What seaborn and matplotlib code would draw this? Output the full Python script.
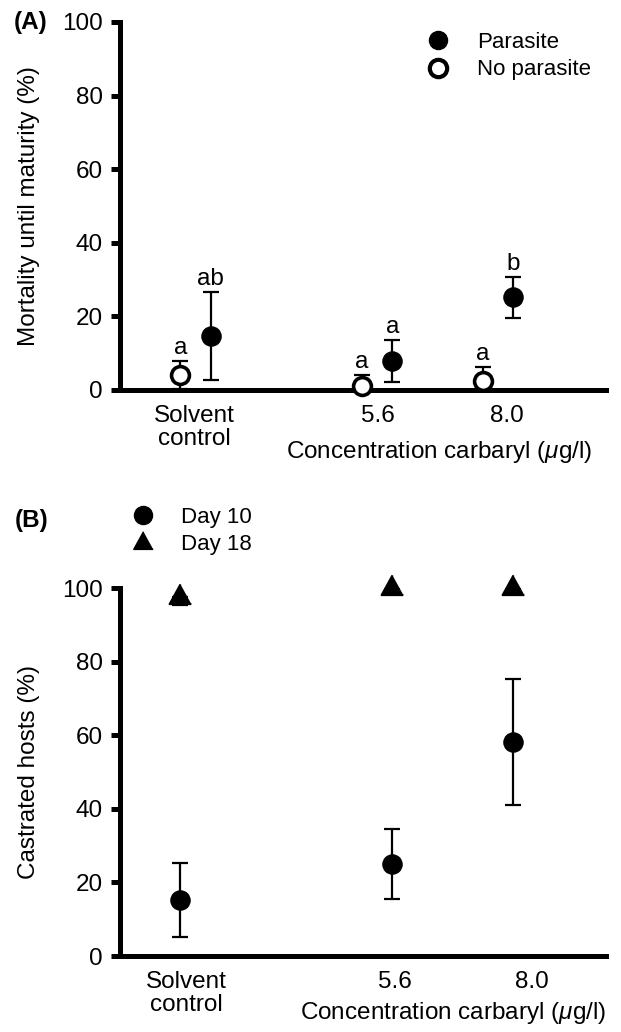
import matplotlib
matplotlib.use("Agg")
import matplotlib.pyplot as plt
import seaborn as sns
from matplotlib.lines import Line2D

# ---- data ----
# panel A: mortality until maturity (%)
tick_labels = ["Solvent\ncontrol", "5.6", "8.0"]
x_parasite = [2.0, 5.6, 8.0]
x_noparasite = [1.4, 5.0, 7.4]
parasite_mean = [14.6, 7.9, 25.2]
parasite_err = [12.0, 5.6, 5.6]
noparasite_mean = [4.1, 1.0, 2.5]
noparasite_err = [3.7, 3.2, 3.7]
letters_parasite = ["ab", "a", "b"]
letters_noparasite = ["a", "a", "a"]

# panel B: castrated hosts (%)
x_day = [1.4, 5.6, 8.0]
day10_mean = [15.3, 25.0, 58.1]
day10_err = [10.0, 9.6, 17.1]
day18_mean = [97.6, 100.0, 100.0]
day18_err_lo = [2.2, 0.0, 0.0]

# tick label positions (slightly offset from points in the original)
ticks_A = [1.67, 5.32, 7.88]
ticks_B = [1.51, 5.66, 8.37]

sns.set_style("ticks")
plt.rcParams["font.family"] = ["Liberation Sans", "DejaVu Sans"]
plt.rcParams["mathtext.fontset"] = "custom"
plt.rcParams["mathtext.it"] = "Liberation Sans:italic"
plt.rcParams["mathtext.rm"] = "Liberation Sans"
for key in ["text.color", "axes.labelcolor", "xtick.color", "ytick.color", "axes.edgecolor"]:
    plt.rcParams[key] = "black"

FS = 17.5
tri = [(0, 1), (-0.825, -0.5), (0.825, -0.5)]  # centroid-centred triangle

fig = plt.figure(figsize=(6.21, 10.32), dpi=100)
axA = fig.add_axes([0.1932, 0.6221, 0.7826, 0.3566])
axB = fig.add_axes([0.1932, 0.0736, 0.7826, 0.3566])


def style_axes(ax, ticks, ylabel, xlab_xy):
    sns.despine(ax=ax)
    for s in ["left", "bottom"]:
        ax.spines[s].set_linewidth(3.6)
        ax.spines[s].set_color("black")
    ax.set_xlim(0.2, 9.84)
    ax.set_ylim(0, 100)
    ax.set_yticks(range(0, 101, 20))
    ax.set_xticks(ticks)
    ax.set_xticklabels(tick_labels, linespacing=1.05)
    ax.tick_params(axis="y", length=6.5, width=3.6, labelsize=FS, pad=6, colors="black")
    ax.tick_params(axis="x", length=0, labelsize=FS, pad=11, colors="black")
    ax.set_ylabel(ylabel, fontsize=FS, color="black")
    ax.yaxis.label.set_va("center")
    ax.yaxis.set_label_coords(-0.188, 0.5)
    ax.set_xlabel(r"Concentration carbaryl ($\mu$g/l)", fontsize=FS, color="black")
    ax.xaxis.label.set_va("center")
    ax.xaxis.set_label_coords(*xlab_xy)


err_kw = dict(fmt="none", ecolor="black", elinewidth=1.6, capsize=6, capthick=1.6, zorder=3)

# ---- panel A ----
axA.errorbar(x_noparasite, noparasite_mean, yerr=noparasite_err, **err_kw)
axA.errorbar(x_parasite, parasite_mean, yerr=parasite_err, **err_kw)
sns.scatterplot(x=x_noparasite, y=noparasite_mean, ax=axA, s=165, marker="o",
                facecolor="white", edgecolor="black", linewidth=2.6, zorder=5, clip_on=False)
sns.scatterplot(x=x_parasite, y=parasite_mean, ax=axA, s=190, marker="o",
                color="black", edgecolor="black", linewidth=1, zorder=5, clip_on=False)

for x, m, e, t in zip(x_noparasite, noparasite_mean, noparasite_err, letters_noparasite):
    axA.annotate(t, (x, m + e), xytext=(0, 5), textcoords="offset points",
                 ha="center", va="baseline", fontsize=FS)
for x, m, e, t in zip(x_parasite, parasite_mean, parasite_err, letters_parasite):
    axA.annotate(t, (x, m + e), xytext=(0, 5), textcoords="offset points",
                 ha="center", va="baseline", fontsize=FS)

style_axes(axA, ticks_A, "Mortality until maturity (%)", (0.656, -0.168))

handlesA = [
    Line2D([], [], ls="", marker="o", color="black", markersize=13),
    Line2D([], [], ls="", marker="o", markerfacecolor="white", markeredgecolor="black",
           markeredgewidth=3, markersize=12.5),
]
axA.legend(handlesA, ["Parasite", "No parasite"], loc="center left",
           bbox_to_anchor=(427 / 621, 1 - 56 / 1032), bbox_transform=fig.transFigure,
           frameon=False, fontsize=16, handlelength=1.0, handletextpad=1.25,
           labelspacing=0.3, borderpad=0, borderaxespad=0)

# ---- panel B ----
axB.errorbar(x_day, day10_mean, yerr=day10_err, **err_kw)
axB.errorbar(x_day, day18_mean, yerr=[day18_err_lo, [0, 0, 0]], **err_kw)
sns.scatterplot(x=x_day, y=day10_mean, ax=axB, s=190, marker="o",
                color="black", edgecolor="black", linewidth=1, zorder=5, clip_on=False)
sns.scatterplot(x=x_day, y=day18_mean, ax=axB, s=360, marker=tri,
                color="black", edgecolor="black", linewidth=1.5, zorder=5, clip_on=False)

style_axes(axB, ticks_B, "Castrated hosts (%)", (0.685, -0.155))

handlesB = [
    Line2D([], [], ls="", marker="o", color="black", markersize=13),
    Line2D([], [], ls="", marker=tri, color="black", markersize=17),
]
axB.legend(handlesB, ["Day 10", "Day 18"], loc="center left",
           bbox_to_anchor=(132 / 621, 1 - 531 / 1032), bbox_transform=fig.transFigure,
           frameon=False, fontsize=16, handlelength=1.0, handletextpad=1.2,
           labelspacing=0.3, borderpad=0, borderaxespad=0)

fig.text(14 / 621, 1 - 22 / 1032, "(A)", fontsize=FS, fontweight="bold", va="center")
fig.text(15 / 621, 1 - 520 / 1032, "(B)", fontsize=FS, fontweight="bold", va="center")

fig.savefig("out.png", dpi=100)
